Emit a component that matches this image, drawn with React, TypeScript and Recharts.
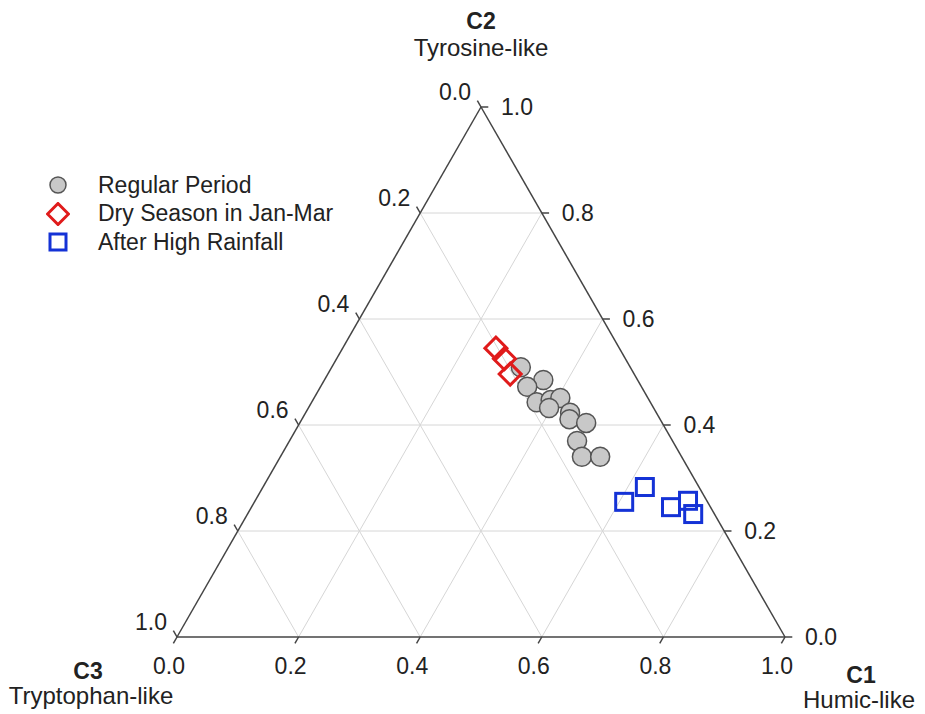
import React from 'react';
import {
  ScatterChart,
  Scatter,
  XAxis,
  YAxis,
  ReferenceLine,
} from 'recharts';

const H = Math.sqrt(3) / 2;

// ternary fractions (C3 = 1 - C1 - C2)
const regularC1 = [0.311, 0.36, 0.34, 0.37, 0.391, 0.405, 0.396, 0.435, 0.44, 0.471, 0.473, 0.496, 0.526];
const regularC2 = [0.509, 0.485, 0.472, 0.443, 0.447, 0.451, 0.432, 0.423, 0.411, 0.404, 0.37, 0.34, 0.34];
const dryC1 = [0.252, 0.276, 0.3];
const dryC2 = [0.545, 0.525, 0.496];
const rainC1 = [0.608, 0.628, 0.69, 0.712, 0.733];
const rainC2 = [0.255, 0.283, 0.245, 0.257, 0.232];

const tickValues = [0, 0.2, 0.4, 0.6, 0.8, 1];
const tickLabels = ['0.0', '0.2', '0.4', '0.6', '0.8', '1.0'];
const gridValues = [0.2, 0.4, 0.6, 0.8];

const seriesNames = ['Regular Period', 'Dry Season in Jan-Mar', 'After High Rainfall'];

const FONT = '"Liberation Sans", Arial, sans-serif';
const TXT = '#222';

const toXY = (c1: number, c2: number) => ({ x: c1 + c2 / 2, y: c2 * H });

const zipPts = (a: number[], b: number[]) => a.map((c1, i) => toXY(c1, b[i]));

const regularData = zipPts(regularC1, regularC2);
const dryData = zipPts(dryC1, dryC2);
const rainData = zipPts(rainC1, rainC2);

const bottomLabels = tickValues.map((t, i) => ({ ...toXY(t, 0), text: tickLabels[i] }));
const rightLabels = tickValues.map((t, i) => ({ ...toXY(1 - t, t), text: tickLabels[i] }));
const leftLabels = tickValues.map((t, i) => ({ ...toXY(0, 1 - t), text: tickLabels[i] }));

const TL = 0.012;

type Seg = [{ x: number; y: number }, { x: number; y: number }];
const gridSegs: Seg[] = [];
gridValues.forEach((c) => {
  gridSegs.push([toXY(0, c), toXY(1 - c, c)]);
  gridSegs.push([toXY(c, 0), toXY(c, 1 - c)]);
  gridSegs.push([toXY(1 - c, 0), toXY(0, 1 - c)]);
});
const tickSegs: Seg[] = [];
tickValues.forEach((t) => {
  const b = toXY(t, 0);
  tickSegs.push([b, { x: b.x - 0.5 * TL, y: b.y - H * TL }]);
  const r = toXY(1 - t, t);
  tickSegs.push([r, { x: r.x + TL, y: r.y }]);
  const l = toXY(0, 1 - t);
  tickSegs.push([l, { x: l.x - 0.5 * TL, y: l.y + H * TL }]);
});
const edgeSegs: Seg[] = [
  [toXY(0, 0), toXY(1, 0)],
  [toXY(1, 0), toXY(0, 1)],
  [toXY(0, 1), toXY(0, 0)],
];

const labelShape = (dx: number, dy: number, anchor: 'start' | 'middle' | 'end') => (props: any) => (
  <text
    x={props.cx + dx}
    y={props.cy + dy}
    textAnchor={anchor}
    dominantBaseline="central"
    fontSize={23}
    fontFamily={FONT}
    fill={TXT}
  >
    {props.payload.text}
  </text>
);

const circleShape = (p: any) => (
  <circle cx={p.cx} cy={p.cy} r={9.5} fill="#c8c8c8" stroke="#555" strokeWidth={1.5} />
);
const diamondShape = (p: any) => (
  <path
    d={`M${p.cx},${p.cy - 11} L${p.cx + 11},${p.cy} L${p.cx},${p.cy + 11} L${p.cx - 11},${p.cy} Z`}
    fill="none"
    stroke="#e01b1b"
    strokeWidth={3}
  />
);
const squareShape = (p: any) => (
  <rect x={p.cx - 8.5} y={p.cy - 8.5} width={17} height={17} fill="none" stroke="#1432d6" strokeWidth={3} />
);

const legendIcons = [
  <circle key="c" cx={12} cy={12} r={8} fill="#c8c8c8" stroke="#555" strokeWidth={1.5} />,
  <path key="d" d="M12,1.5 L22.5,12 L12,22.5 L1.5,12 Z" fill="none" stroke="#e01b1b" strokeWidth={3} />,
  <rect key="s" x={4} y={4} width={16} height={16} fill="none" stroke="#1432d6" strokeWidth={3} />,
];

const titleStyle = (cx: number, cy: number, bold: boolean): React.CSSProperties => ({
  position: 'absolute',
  left: cx,
  top: cy,
  transform: 'translate(-50%, -50%)',
  fontFamily: FONT,
  fontSize: bold ? 23 : 24,
  fontWeight: bold ? 'bold' : 'normal',
  color: TXT,
  whiteSpace: 'nowrap',
});

export default function App() {
  return (
    <div style={{ position: 'absolute', left: 0, top: 0, width: 925, height: 714, background: '#fff', overflow: 'hidden' }}>
      <ScatterChart width={925} height={714} margin={{ top: 107, right: 140, bottom: 77, left: 177 }}>
        <XAxis type="number" dataKey="x" domain={[0, 1]} hide />
        <YAxis type="number" dataKey="y" domain={[0, H]} hide />
        {gridSegs.map((s, i) => (
          <ReferenceLine key={`g${i}`} segment={s} stroke="#d6d6d6" strokeWidth={1} ifOverflow="visible" />
        ))}
        {tickSegs.map((s, i) => (
          <ReferenceLine key={`t${i}`} segment={s} stroke="#444" strokeWidth={1.5} ifOverflow="visible" />
        ))}
        {edgeSegs.map((s, i) => (
          <ReferenceLine key={`e${i}`} segment={s} stroke="#444" strokeWidth={1.5} ifOverflow="visible" />
        ))}
        <Scatter data={bottomLabels} shape={labelShape(-8, 29, 'middle')} isAnimationActive={false} legendType="none" />
        <Scatter data={rightLabels} shape={labelShape(20, 0, 'start')} isAnimationActive={false} legendType="none" />
        <Scatter data={leftLabels} shape={labelShape(-10, -15, 'end')} isAnimationActive={false} legendType="none" />
        <Scatter name={seriesNames[0]} data={regularData} shape={circleShape} isAnimationActive={false} />
        <Scatter name={seriesNames[1]} data={dryData} shape={diamondShape} isAnimationActive={false} />
        <Scatter name={seriesNames[2]} data={rainData} shape={squareShape} isAnimationActive={false} />
      </ScatterChart>
      <div style={{ position: 'absolute', left: 46, top: 171, fontFamily: FONT, fontSize: 23, color: TXT }}>
        {seriesNames.map((n, i) => (
          <div key={n} style={{ display: 'flex', alignItems: 'center', height: 28.5, whiteSpace: 'nowrap' }}>
            <svg width={24} height={24} style={{ marginRight: 28 }}>
              {legendIcons[i]}
            </svg>
            <span>{n}</span>
          </div>
        ))}
      </div>
      <div style={titleStyle(481, 21, true)}>C2</div>
      <div style={titleStyle(481, 48, false)}>Tyrosine-like</div>
      <div style={titleStyle(88, 671, true)}>C3</div>
      <div style={titleStyle(91, 696, false)}>Tryptophan-like</div>
      <div style={titleStyle(861, 675, true)}>C1</div>
      <div style={titleStyle(859, 700, false)}>Humic-like</div>
    </div>
  );
}
